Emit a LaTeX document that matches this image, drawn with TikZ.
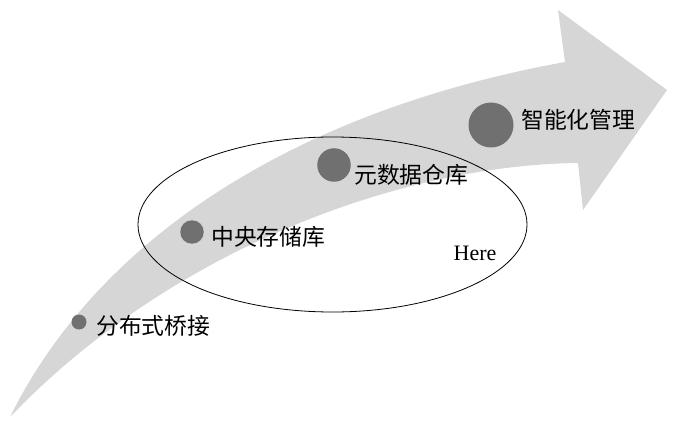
\documentclass[tikz,border=0pt]{standalone}
\usepackage{fontspec}
\setmainfont{Liberation Serif}
\newfontfamily\cjk{Noto Sans CJK SC}
\usepackage{tikz}
\definecolor{bandgray}{RGB}{214,214,214}
\definecolor{dotgray}{RGB}{112,112,112}
\newcommand{\lblsize}{\fontsize{22.8}{22.8}\selectfont}

\begin{document}
\begin{tikzpicture}[x=1pt, y=-1pt,
    stage/.style={circle, fill=dotgray, inner sep=0pt},
    lbl/.style={anchor=west, inner sep=0pt, font=\cjk\lblsize}]

    \useasboundingbox (0, 0) rectangle (675, 425);

    % the band
    \fill[bandgray] (10, 417) .. controls (100, 235) and (300, 110) .. (565, 62)
        -- (558, 10) -- (667, 90) -- (583, 210) -- (578, 163)
        .. controls (400, 165) and (170, 250) .. (10, 417) -- cycle;

    \draw[black, line width=0.8pt] (332.5, 224.5) ellipse [x radius=194.5pt, y radius=87.5pt];

    \node[stage, minimum size=15pt] (bridge) at (79, 322) {};
    \node[stage, minimum size=23.5pt] (central) at (192, 232) {};
    \node[stage, minimum size=33.5pt] (meta) at (334, 165) {};
    \node[stage, minimum size=45pt] (smart) at (491, 125) {};

    \node[lbl] (tbridge) at (96, 326) {分布式桥接};
    \node[lbl] (tcentral) at (211, 237) {中央存储库};
    \node[lbl] (tmeta) at (354, 175) {元数据仓库};
    \node[lbl] (tsmart) at (521, 120) {智能化管理};

    \node[font=\fontsize{22}{22}\selectfont] (here) at (475, 253) {Here};

\end{tikzpicture}
\end{document}
